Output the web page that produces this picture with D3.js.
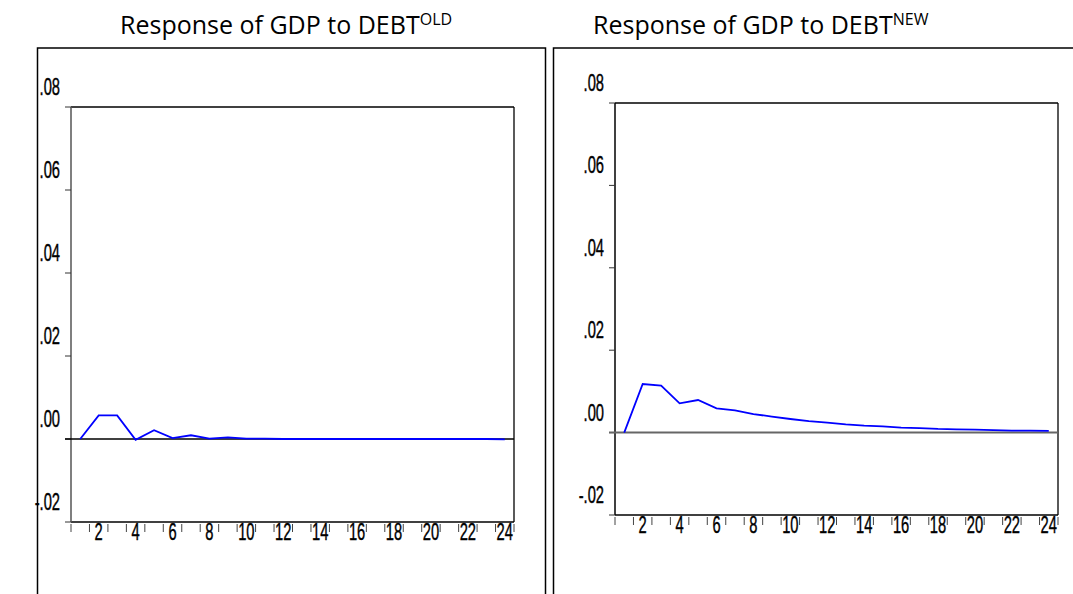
<!DOCTYPE html>
<html>
<head>
<meta charset="utf-8">
<script src="https://cdn.jsdelivr.net/npm/d3@7"></script>
<style>
  body { margin: 0; background: #fff; }
  .tick-label { font-family: "Liberation Sans", Arial, sans-serif; font-size: 23px; fill: #000; stroke: #000; stroke-width: 0.4px; }
  .title { font-family: "Open Sans", "Noto Sans", sans-serif; font-size: 25px; fill: #000; }
</style>
</head>
<body>
<script>
// periods after the shock
var periods = [1, 2, 3, 4, 5, 6, 7, 8, 9, 10, 11, 12, 13, 14, 15, 16, 17, 18, 19, 20, 21, 22, 23, 24];
// response of GDP to DEBT(OLD)
var oldResponse = [0.0000, 0.0057, 0.0057, -0.0002, 0.0021, 0.0002, 0.0009, 0.0001, 0.0004, 0.0001,
                   0.0001, 0.0000, 0.0000, 0.0000, 0.0000, 0.0000, 0.0000, 0.0000, 0.0000, 0.0000,
                   0.0000, 0.0000, 0.0000, -0.0001];
// response of GDP to DEBT(NEW)
var newResponse = [0.0000, 0.0118, 0.0114, 0.0071, 0.0079, 0.0059, 0.0054, 0.0045, 0.0039, 0.0033,
                   0.0028, 0.0024, 0.0020, 0.0017, 0.0015, 0.0012, 0.0011, 0.0009, 0.0008, 0.0007,
                   0.0006, 0.0005, 0.0005, 0.0004];
var yTicks = [0.08, 0.06, 0.04, 0.02, 0.00, -0.02];
var yTickLabels = [".08", ".06", ".04", ".02", ".00", "-.02"];
var xLabelPeriods = [2, 4, 6, 8, 10, 12, 14, 16, 18, 20, 22, 24];

var svg = d3.select("body").append("svg")
    .attr("width", 1073)
    .attr("height", 594);

// outer frames of the two panels
svg.append("rect")
    .attr("x", 37.5).attr("y", 48)
    .attr("width", 508).attr("height", 560)
    .attr("fill", "none").attr("stroke", "#000").attr("stroke-width", 1.5);
svg.append("rect")
    .attr("x", 553.5).attr("y", 48)
    .attr("width", 560).attr("height", 560)
    .attr("fill", "none").attr("stroke", "#000").attr("stroke-width", 1.5);

function drawPanel(p) {
  var x = d3.scaleBand().domain(periods).range([p.left, p.right]);
  var y = d3.scaleLinear().domain([-0.02, 0.08]).range([p.bottom, p.top]);
  var g = svg.append("g");

  // title
  var t = g.append("text").attr("class", "title")
      .attr("x", p.titleX).attr("y", 34);
  t.append("tspan").text("Response of GDP to DEBT");
  t.append("tspan").attr("dy", -9).style("font-size", "16px").text(p.sup);

  // plot box
  g.append("line").attr("x1", p.left).attr("x2", p.right).attr("y1", y(0.08)).attr("y2", y(0.08))
      .attr("stroke", "#000").attr("stroke-width", 1.3);
  g.append("line").attr("x1", p.right).attr("x2", p.right).attr("y1", y(0.08)).attr("y2", y(-0.02))
      .attr("stroke", "#000").attr("stroke-width", 1.3);
  g.append("line").attr("x1", p.left).attr("x2", p.right).attr("y1", y(-0.02)).attr("y2", y(-0.02))
      .attr("stroke", "#000").attr("stroke-width", 1.3);
  g.append("line").attr("x1", p.left).attr("x2", p.left).attr("y1", y(0.08)).attr("y2", y(-0.02))
      .attr("stroke", p.axisColor).attr("stroke-width", 1.5);

  // y ticks and labels
  g.selectAll(".ytick").data(yTicks).enter().append("line")
      .attr("x1", p.left - 6).attr("x2", p.left)
      .attr("y1", function(d) { return y(d); }).attr("y2", function(d) { return y(d); })
      .attr("stroke", "#333").attr("stroke-width", 1);
  g.selectAll(".ylab").data(yTicks).enter().append("text")
      .attr("class", "tick-label")
      .attr("text-anchor", "end")
      .attr("transform", function(d) { return "translate(" + (p.left - 11) + "," + (y(d) - 12) + ") scale(0.64,1)"; })
      .text(function(d, i) { return yTickLabels[i]; });

  // x ticks at band boundaries, labels at even periods
  var bounds = periods.map(function(d) { return x(d); }).concat([p.right]);
  g.selectAll(".xtick").data(bounds).enter().append("line")
      .attr("x1", function(d) { return d; }).attr("x2", function(d) { return d; })
      .attr("y1", y(-0.02) + 2).attr("y2", y(-0.02) + 10)
      .attr("stroke", "#444").attr("stroke-width", 1);
  g.selectAll(".xlab").data(xLabelPeriods).enter().append("text")
      .attr("class", "tick-label")
      .attr("text-anchor", "middle")
      .attr("transform", function(d) { return "translate(" + (x(d) + x.bandwidth() / 2) + "," + (y(-0.02) + 18) + ") scale(0.64,1)"; })
      .text(function(d) { return d; });

  // zero line
  g.append("line").attr("x1", p.left - 6).attr("x2", p.right).attr("y1", y(0)).attr("y2", y(0))
      .attr("stroke", p.zeroColor).attr("stroke-width", p.zeroWidth);

  // response line
  var line = d3.line()
      .x(function(d, i) { return x(periods[i]) + x.bandwidth() / 2; })
      .y(function(d) { return y(d); });
  g.append("path").datum(p.values)
      .attr("d", line)
      .attr("fill", "none").attr("stroke", "#0000ff").attr("stroke-width", 1.8);
}

drawPanel({ left: 71, right: 514, top: 107, bottom: 522, titleX: 120, sup: "OLD",
            values: oldResponse, axisColor: "#555", zeroColor: "#000", zeroWidth: 1.3 });
drawPanel({ left: 615, right: 1058, top: 103, bottom: 515, titleX: 593, sup: "NEW",
            values: newResponse, axisColor: "#000", zeroColor: "#666", zeroWidth: 2 });
</script>
</body>
</html>
